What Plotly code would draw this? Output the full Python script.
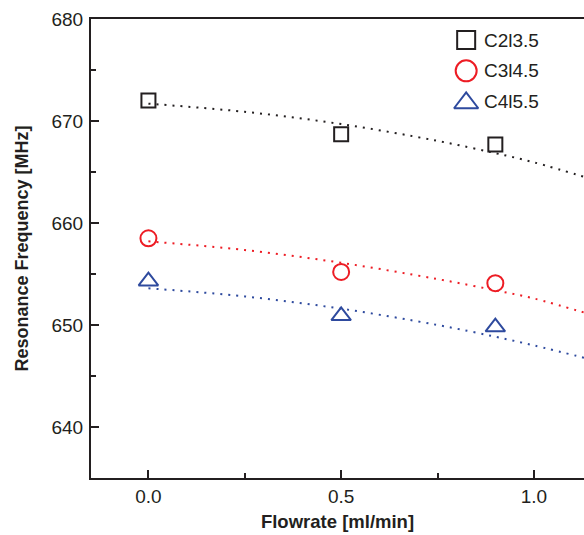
import plotly.graph_objects as go

flow = [0.0, 0.5, 0.9]
names = ["C2l3.5", "C3l4.5", "C4l5.5"]
freq_c2 = [672.0, 668.7, 667.7]
freq_c3 = [658.5, 655.2, 654.1]
freq_c4 = [654.3, 650.9, 649.8]

fit_x = [0.0, 0.25, 0.5, 0.75, 0.9, 1.0, 1.15]
fit_c2 = [671.7, 670.9, 669.7, 668.05, 666.85, 665.95, 664.3]
fit_c3 = [658.2, 657.35, 656.1, 654.5, 653.4, 652.6, 651.0]
fit_c4 = [653.6, 652.8, 651.6, 650.0, 648.85, 648.0, 646.6]

colors = ["#231f20", "#ed1c24", "#2e4a9e"]
symbols = ["square-open", "circle-open", "triangle-up-open"]
sizes = [14, 16, 17]

# legend box layout (fractions of the plot area)
leg_sizes = [18, 21, 21]
leg_mx = 0.761
leg_tx = 0.793
leg_rows = [0.954, 0.887, 0.821]
leg_my = [0.954, 0.887, 0.817]

fig = go.Figure()
for fx, fy, c in zip([fit_x] * 3, [fit_c2, fit_c3, fit_c4], colors):
    fig.add_trace(go.Scatter(x=fx, y=fy, mode="lines", line=dict(color=c, width=2, dash="2px,6px", shape="spline"),
                             showlegend=False, hoverinfo="skip"))
for n, ys, c, s, sz in zip(names, [freq_c2, freq_c3, freq_c4], colors, symbols, sizes):
    fig.add_trace(go.Scatter(x=flow, y=ys, mode="markers", name=n,
                             marker=dict(symbol=s, size=sz, color=c, line=dict(color=c, width=2)),
                             showlegend=False))
for i, (n, c, s, sz) in enumerate(zip(names, colors, symbols, leg_sizes)):
    fig.add_trace(go.Scatter(x=[leg_mx], y=[leg_my[i]], mode="markers", xaxis="x2", yaxis="y2",
                             showlegend=False, hoverinfo="skip",
                             marker=dict(symbol=s, size=sz, color=c, line=dict(color=c, width=2))))
    fig.add_annotation(x=leg_tx, y=leg_rows[i], xref="x2", yref="y2", text=n, showarrow=False,
                       xanchor="left", yanchor="middle", font=dict(size=19, color="#231f20"))

axis_col = "#231f20"
fig.update_layout(
    width=584, height=535,
    margin=dict(l=91, r=0, t=19, b=57),
    plot_bgcolor="white", paper_bgcolor="white",
    font=dict(family="Liberation Sans, Arial, sans-serif", size=19, color="#231f20"),
    showlegend=False,
    xaxis=dict(range=[-0.149, 1.13], tickvals=[0.0, 0.5, 1.0], ticktext=["0.0", "0.5", "1.0"],
               ticks="inside", ticklen=8, tickwidth=1.5, tickcolor=axis_col,
               minor=dict(tickvals=[0.25, 0.75], ticks="inside", ticklen=5, tickwidth=1.5, tickcolor=axis_col),
               showline=True, linewidth=2, linecolor=axis_col, mirror=True,
               showgrid=False, zeroline=False,
               title=dict(text="<b>Flowrate [ml/min]</b>", font=dict(size=18.5), standoff=9)),
    yaxis=dict(range=[635, 680], tickvals=[640, 650, 660, 670, 680],
               ticks="inside", ticklen=8, tickwidth=1.5, tickcolor=axis_col,
               minor=dict(tickvals=[645, 655, 665, 675], ticks="inside", ticklen=5, tickwidth=1.5, tickcolor=axis_col),
               showline=True, linewidth=2, linecolor=axis_col, ticklabelstandoff=2,
               showgrid=False, zeroline=False,
               title=dict(text="<b>Resonance Frequency [MHz]</b>", font=dict(size=18), standoff=18)),
    xaxis2=dict(overlaying="x", range=[0, 1], visible=False, fixedrange=True),
    yaxis2=dict(overlaying="y", range=[0, 1], visible=False, fixedrange=True),
)

fig.write_html("out.html", config={"displayModeBar": False},
               post_script="document.body.style.margin='0';document.body.style.overflow='hidden';")
